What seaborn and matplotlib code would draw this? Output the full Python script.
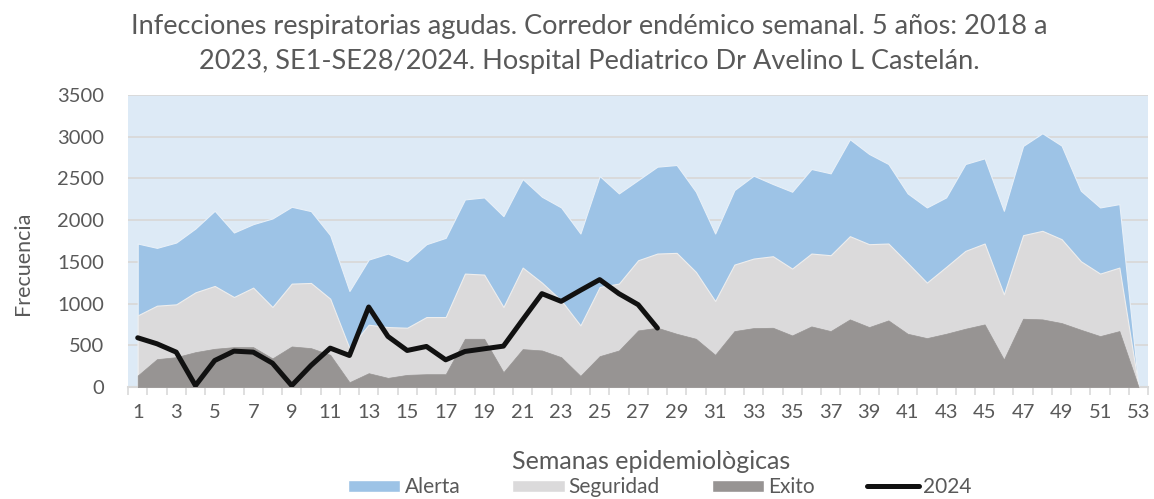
import numpy as np
import pandas as pd
import matplotlib
matplotlib.use("Agg")
import matplotlib.pyplot as plt
import seaborn as sns
from matplotlib.patches import Patch
from matplotlib.lines import Line2D

# Epidemiological weeks and corridor values
weeks = list(range(1, 54))

alerta = [1720, 1668, 1732, 1900, 2112, 1852, 1952, 2020, 2160, 2108,
          1820, 1152, 1528, 1600, 1508, 1712, 1788, 2248, 2272, 2048,
          2492, 2280, 2152, 1840, 2528, 2320, 2480, 2640, 2660, 2340,
          1840, 2360, 2532, 2432, 2340, 2612, 2560, 2968, 2792, 2672,
          2320, 2152, 2272, 2672, 2740, 2112, 2888, 3040, 2892, 2352,
          2152, 2192, 0]

seguridad = [860, 976, 992, 1136, 1212, 1080, 1192, 960, 1240, 1248,
             1060, 468, 748, 720, 712, 840, 840, 1360, 1348, 960,
             1432, 1252, 1040, 740, 1200, 1240, 1520, 1600, 1608, 1380,
             1032, 1468, 1540, 1568, 1420, 1600, 1580, 1808, 1712, 1720,
             1488, 1252, 1440, 1632, 1720, 1112, 1820, 1872, 1772, 1508,
             1360, 1432, 0]

exito = [140, 336, 360, 420, 460, 480, 480, 345, 488, 468,
         388, 60, 168, 112, 148, 156, 156, 580, 580, 180,
         456, 440, 360, 136, 372, 440, 680, 712, 640, 580,
         388, 672, 708, 712, 620, 728, 672, 812, 720, 800,
         640, 588, 640, 700, 752, 332, 820, 812, 768, 688,
         612, 672, 0]

weeks_2024 = list(range(1, 29))
casos_2024 = [592, 520, 420, 20, 320, 432, 420, 288, 20, 260,
              468, 380, 960, 608, 440, 488, 328, 428, 460, 492,
              808, 1120, 1028, 1160, 1288, 1120, 988, 708]

c_bg = "#DDEAF6"
c_alerta = "#9DC3E6"
c_seg = "#DBDADB"
c_exito = "#979493"
c_text = "#595959"
c_grid = "#D9D9D9"

sns.set_theme(style="white")
plt.rcParams['font.family'] = ['Lato', 'DejaVu Sans']

corr = pd.DataFrame({"semana": weeks, "Alerta": alerta,
                     "Seguridad": seguridad, "Exito": exito})
df24 = pd.DataFrame({"semana": weeks_2024, "casos": casos_2024})

fig, ax = plt.subplots(figsize=(11.54, 4.99), dpi=100)
fig.subplots_adjust(left=0.111, right=0.995, top=0.81, bottom=0.224)

ax.set_facecolor(c_bg)
ax.grid(axis="y", color=c_grid, linewidth=1.3, zorder=0)
ax.set_axisbelow(True)

ax.fill_between(corr["semana"], corr["Alerta"], color=c_alerta,
                edgecolor="#E8F0F8", linewidth=0.8, zorder=2)
ax.fill_between(corr["semana"], corr["Seguridad"], color=c_seg,
                edgecolor="#EEEEEE", linewidth=0.8, zorder=3)
ax.fill_between(corr["semana"], corr["Exito"], color=c_exito,
                edgecolor=c_exito, linewidth=0.5, zorder=4)
sns.lineplot(data=df24, x="semana", y="casos", color="#111111",
             linewidth=3.6, ax=ax, zorder=5, legend=False)

ax.set_xlim(0.5, 53.5)
ax.set_ylim(0, 3500)
ax.set_yticks(range(0, 3501, 500))
ax.set_xticks(range(1, 54, 2))
ax.set_xticks(np.arange(0.5, 54, 1), minor=True)
ax.tick_params(axis="x", which="major", length=0, pad=12,
               labelsize=14.5, labelcolor=c_text)
ax.tick_params(axis="x", which="minor", length=6, width=1.2,
               color=c_grid, direction="out", bottom=True)
ax.tick_params(axis="y", length=0, pad=17, labelsize=14.5,
               labelcolor=c_text)

for s in ["top", "right", "left"]:
    ax.spines[s].set_visible(False)
ax.spines["bottom"].set_color(c_grid)
ax.spines["bottom"].set_linewidth(1.5)

ax.set_xlabel("Semanas epidemiològicas", fontsize=18, color=c_text)
ax.xaxis.set_label_coords(0.513, -0.213)
ax.set_ylabel("Frecuencia", fontsize=15.5, color=c_text)
ax.yaxis.set_label_coords(-0.093, 0.425)

fig.text(0.511, 0.912,
         "Infecciones respiratorias agudas. Corredor endémico semanal. 5 años: 2018 a\n"
         "2023, SE1-SE28/2024. Hospital Pediatrico Dr Avelino L Castelán.",
         ha="center", va="center", fontsize=19.5, color=c_text, linespacing=1.5)

handles = [Patch(facecolor=c_alerta, label="Alerta"),
           Patch(facecolor=c_seg, label="Seguridad"),
           Patch(facecolor=c_exito, label="Exito"),
           Line2D([0], [0], color="#111111", linewidth=3.6, label="2024")]
fig.legend(handles=handles, loc="center", bbox_to_anchor=(0.572, 0.024),
           ncol=4, frameon=False, fontsize=15, handlelength=2.5,
           handleheight=0.5, columnspacing=2.5, handletextpad=0.2,
           labelcolor=c_text)

fig.savefig("out.png", dpi=100)
